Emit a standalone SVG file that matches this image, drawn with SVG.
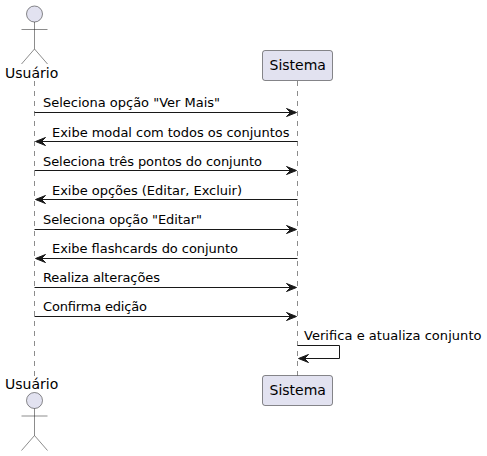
<svg xmlns="http://www.w3.org/2000/svg" width="487" height="456" viewBox="0 0 487 456">
<style>
text{font-family:"DejaVu Sans",sans-serif;fill:#000}
.t{font-size:13px}
.n{font-size:14px}
.life{stroke:#181818;stroke-width:.5;stroke-dasharray:5 5;fill:none}
.m{stroke:#181818;stroke-width:1;fill:none}
.box{fill:#E2E2F0;stroke:#181818;stroke-width:.5}
.a{fill:none;stroke:#181818;stroke-width:.5}
.h{fill:#E2E2F0;stroke:#181818;stroke-width:.5}
.ah{fill:#181818;stroke:#181818}
</style>
<defs>
<g id="fig"><circle class="h" cx="0" cy="0" r="8"/><path class="a" d="M0 8V35M-13 15.500H13M0 35L-13 50M0 35L13 50"/></g>
<polygon id="r" class="ah" points="0,0 -10,-4 -6,0 -10,4"/>
<polygon id="l" class="ah" points="0,0 10,-4 6,0 10,4"/>
</defs>
<g id="lifelines">
<path class="life" d="M34.5 81V376"/>
<path class="life" d="M297.5 81V376"/>
</g>
<g id="connectors">
<path class="m" d="M34.5 112.500H292"/><use href="#r" x="296.500" y="112.500"/>
<path class="m" d="M40 141.500H297.500"/><use href="#l" x="35.500" y="141.500"/>
<path class="m" d="M34.500 170.500H292"/><use href="#r" x="296.500" y="170.500"/>
<path class="m" d="M40 199.500H297.500"/><use href="#l" x="35.500" y="199.500"/>
<path class="m" d="M34.500 229.500H292"/><use href="#r" x="296.500" y="229.500"/>
<path class="m" d="M40 258.500H297.500"/><use href="#l" x="35.500" y="258.500"/>
<path class="m" d="M34.500 287.500H292"/><use href="#r" x="296.500" y="287.500"/>
<path class="m" d="M34.500 316.500H292"/><use href="#r" x="296.500" y="316.500"/>
<path class="m" d="M297.500 345.500H339.500V358.500H304"/><use href="#l" x="298.500" y="358.500"/>
</g>
<g id="labels">
<text class="t" x="43" y="107" textLength="177">Seleciona opção "Ver Mais"</text>
<text class="t" x="52" y="136.500" textLength="237.500">Exibe modal com todos os conjuntos</text>
<text class="t" x="43" y="165.500" textLength="219">Seleciona três pontos do conjunto</text>
<text class="t" x="52" y="194.500" textLength="190">Exibe opções (Editar, Excluir)</text>
<text class="t" x="43" y="224" textLength="159">Seleciona opção "Editar"</text>
<text class="t" x="52" y="253" textLength="186">Exibe flashcards do conjunto</text>
<text class="t" x="43" y="282" textLength="117">Realiza alterações</text>
<text class="t" x="43" y="311" textLength="104">Confirma edição</text>
<text class="t" x="304" y="340" textLength="177.500">Verifica e atualiza conjunto</text>
</g>
<g id="actor-top"><use href="#fig" x="34.500" y="14"/><text class="n" x="5" y="78">Usuário</text></g>
<g id="actor-bottom"><use href="#fig" x="34.500" y="400.500"/><text class="n" x="5" y="389">Usuário</text></g>
<g id="sistema-top"><rect class="box" x="262.500" y="50.500" width="70" height="30" rx="2.500"/><text class="n" x="269.500" y="70">Sistema</text></g>
<g id="sistema-bottom"><rect class="box" x="262.500" y="375.500" width="70" height="30" rx="2.500"/><text class="n" x="269.500" y="395">Sistema</text></g>
</svg>
